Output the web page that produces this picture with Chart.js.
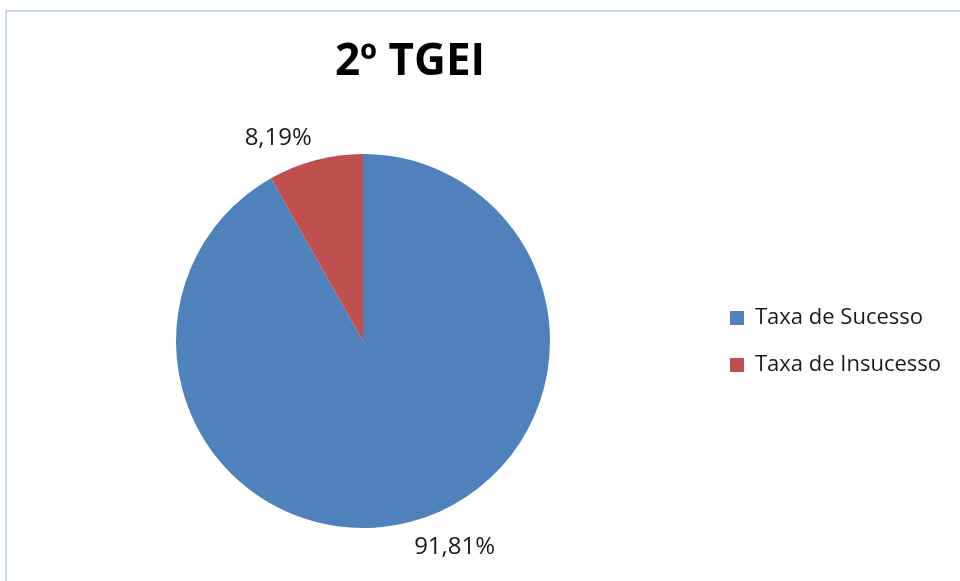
<!DOCTYPE html>
<html>
<head>
<meta charset="utf-8">
<script src="https://cdn.jsdelivr.net/npm/chart.js@4.4.1/dist/chart.umd.min.js"></script>
<style>
  html, body { margin: 0; padding: 0; background: #fff; }
  #wrap { position: relative; width: 960px; height: 581px; overflow: hidden; }
  #frame { position: absolute; left: 5px; top: 10px; width: 1000px; height: 600px;
           border-left: 2px solid #c6d9f1; border-top: 2px solid #c6d9f1; }
  #chart { position: absolute; left: 0; top: 0; }
</style>
</head>
<body>
<div id="wrap">
  <div id="frame"></div>
  <canvas id="chart" width="960" height="581"></canvas>
</div>
<script>
// dados do gráfico
const chartTitle = '2º TGEI';
const categories = ['Taxa de Sucesso', 'Taxa de Insucesso'];
const values = [91.81, 8.19];
const colors = ['#4f81bd', '#c0504d'];
const FONT = '"Open Sans", "Liberation Sans", sans-serif';

function fmt(v) {
  return v.toFixed(2).replace('.', ',') + '%';
}

// título, rótulos e legenda desenhados à maneira do Excel
const excelDecor = {
  id: 'excelDecor',
  afterDraw(chart) {
    const ctx = chart.ctx;
    ctx.save();
    ctx.fillStyle = '#000';
    ctx.font = 'bold 44px ' + FONT;
    ctx.textAlign = 'center';
    ctx.textBaseline = 'middle';
    ctx.fillText(chartTitle, 410, 62);

    // rótulos de dados fora do sector
    ctx.font = '24px ' + FONT;
    ctx.fillStyle = '#1a1a1a';
    const meta = chart.getDatasetMeta(0);
    meta.data.forEach((arc, i) => {
      const p = arc.getProps(['x', 'y', 'startAngle', 'endAngle', 'outerRadius'], true);
      const mid = (p.startAngle + p.endAngle) / 2;
      const c = Math.cos(mid), s = Math.sin(mid);
      const gap = 14;
      const x = p.x + c * (p.outerRadius + gap);
      const y = p.y + s * (p.outerRadius + gap);
      ctx.textAlign = c >= 0 ? 'left' : 'right';
      ctx.textBaseline = s >= 0 ? 'top' : 'bottom';
      ctx.fillText(fmt(values[i]), x, y + (s >= 0 ? 0 : 4));
    });

    // legenda à direita
    ctx.font = '22px ' + FONT;
    ctx.textAlign = 'left';
    ctx.textBaseline = 'middle';
    categories.forEach((name, i) => {
      const y = 318 + i * 47;
      ctx.fillStyle = colors[i];
      ctx.fillRect(730, y - 7, 14, 14);
      ctx.fillStyle = '#1a1a1a';
      ctx.fillText(name, 755, y);
    });
    ctx.restore();
  }
};

new Chart(document.getElementById('chart'), {
  type: 'pie',
  data: {
    labels: categories,
    datasets: [{
      data: values,
      backgroundColor: colors,
      borderWidth: 0
    }]
  },
  options: {
    responsive: false,
    animation: false,
    layout: { padding: { left: 176, right: 410, top: 154, bottom: 53 } },
    plugins: {
      legend: { display: false },
      tooltip: { enabled: false },
      title: { display: false }
    }
  },
  plugins: [excelDecor]
});
</script>
</body>
</html>
